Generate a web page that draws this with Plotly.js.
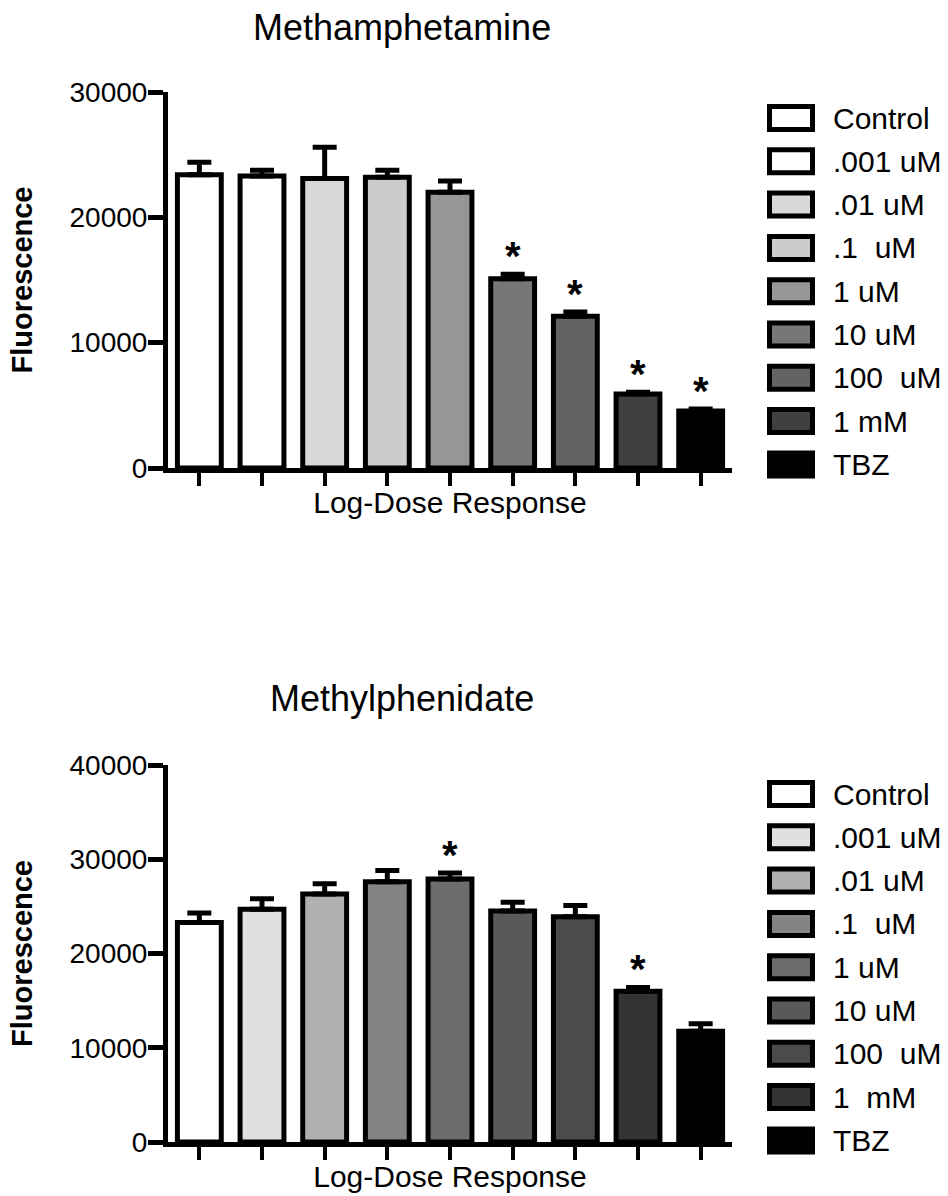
<!DOCTYPE html>
<html>
<head>
<meta charset="utf-8">
<script src="https://cdn.plot.ly/plotly-3.0.1.min.js"></script>
<style>html,body{margin:0;padding:0;background:#fff;}#chart{width:948px;height:1196px;}</style>
</head>
<body>
<div id="chart"></div>
<script>
// ---------- DATA ----------
const categories = ['Control', '.001 uM', '.01 uM', '.1  uM', '1 uM', '10 uM', '100  uM', '1 mM', 'TBZ'];
const categoriesB = ['Control', '.001 uM', '.01 uM', '.1  uM', '1 uM', '10 uM', '100  uM', '1  mM', 'TBZ'];

const methamphetamineMean = [23400, 23300, 23100, 23200, 22000, 15100, 12100, 5900, 4550];
const methamphetamineSEM  = [1000, 450, 2500, 550, 900, 350, 350, 150, 150];
const methamphetamineSig  = [false, false, false, false, false, true, true, true, true];

const methylphenidateMean = [23300, 24700, 26300, 27600, 27900, 24500, 23900, 16000, 11750];
const methylphenidateSEM  = [1000, 1100, 1100, 1200, 650, 950, 1200, 400, 800];
const methylphenidateSig  = [false, false, false, false, true, false, false, true, false];

const colorsA = ['#ffffff', '#ffffff', '#d8d8d8', '#cccccc', '#969696', '#777777', '#636363', '#404040', '#000000'];
const colorsB = ['#ffffff', '#e0e0e0', '#b0b0b0', '#838383', '#6c6c6c', '#595959', '#4b4b4b', '#333333', '#000000'];

const yTicksA = [0, 10000, 20000, 30000];
const yTicksB = [0, 10000, 20000, 30000, 40000];

// ---------- LAYOUT HELPERS ----------
const W = 948, H = 1196;
const px = v => v / W;
const py = v => 1 - v / H;
const FONT = 'Liberation Sans, Arial, Helvetica, sans-serif';
const nb = s => s.replace(/ /g, '\u00a0');

function barTrace(cats, vals, errs, cols, xa, ya) {
  return {
    type: 'bar', x: cats.map(nb), y: vals, xaxis: xa, yaxis: ya,
    marker: { color: cols, line: { color: '#000', width: 5 } },
    error_y: { type: 'data', array: errs, arrayminus: errs.map(() => 0), symmetric: false,
               color: '#000', thickness: 5, width: 12 },
    showlegend: false, hoverinfo: 'x+y'
  };
}

const data = [
  barTrace(categories, methamphetamineMean, methamphetamineSEM, colorsA, 'x', 'y'),
  barTrace(categoriesB, methylphenidateMean, methylphenidateSEM, colorsB, 'x2', 'y2')
];

function xAxis(anchor) {
  return {
    domain: [px(168), px(732)], anchor: anchor, type: 'category',
    showline: true, linewidth: 5, linecolor: '#000',
    ticks: 'outside', ticklen: 13, tickwidth: 4, tickcolor: '#000',
    showticklabels: false, showgrid: false, zeroline: false, fixedrange: true,
    title: { text: 'Log-Dose Response', font: { family: FONT, size: 30, color: '#000' }, standoff: 8 }
  };
}
function yAxis(domain, anchor, range, ticks) {
  return {
    domain: domain, anchor: anchor, range: range, tickvals: ticks, tickformat: 'd',
    showline: true, linewidth: 5, linecolor: '#000',
    ticks: 'outside', ticklen: 15, tickwidth: 5, tickcolor: '#000',
    ticklabelstandoff: -5,
    tickfont: { family: FONT, size: 28, color: '#000' },
    showgrid: false, zeroline: false, fixedrange: true,
    title: { text: '<b>Fluorescence</b>', font: { family: FONT, size: 29, color: '#000' }, standoff: 30 }
  };
}

const annotations = [];
const shapes = [];

// Titles
annotations.push({ text: 'Methamphetamine', xref: 'paper', yref: 'paper', x: px(402), y: py(28),
  xanchor: 'center', yanchor: 'middle', showarrow: false, font: { family: FONT, size: 36, color: '#000' } });
annotations.push({ text: 'Methylphenidate', xref: 'paper', yref: 'paper', x: px(402), y: py(698),
  xanchor: 'center', yanchor: 'middle', showarrow: false, font: { family: FONT, size: 36, color: '#000' } });

// Significance asterisks
function stars(cats, vals, errs, sig, xa, ya) {
  cats.forEach((c, i) => {
    if (!sig[i]) return;
    annotations.push({ text: '<b>*</b>', x: nb(c), y: vals[i] + errs[i], xref: xa, yref: ya,
      xanchor: 'center', yanchor: 'bottom', showarrow: false, yshift: -6,
      font: { family: FONT, size: 40, color: '#000' } });
  });
}
stars(categories, methamphetamineMean, methamphetamineSEM, methamphetamineSig, 'x', 'y');
stars(categoriesB, methylphenidateMean, methylphenidateSEM, methylphenidateSig, 'x2', 'y2');

// Custom legends
function legend(cats, cols, firstY) {
  cats.forEach((c, i) => {
    const cy = firstY + i * 43.3;
    shapes.push({ type: 'rect', xref: 'paper', yref: 'paper',
      x0: px(769.5), x1: px(812.5), y0: py(cy + 11.5), y1: py(cy - 11.5),
      line: { color: '#000', width: 5 }, fillcolor: cols[i] });
    annotations.push({ text: nb(c), xref: 'paper', yref: 'paper', x: px(831), y: py(cy),
      xanchor: 'left', yanchor: 'middle', showarrow: false,
      font: { family: FONT, size: 30, color: '#000' } });
  });
}
legend(categories, colorsA, 118);
legend(categoriesB, colorsB, 794);

const layout = {
  width: W, height: H,
  margin: { l: 0, r: 0, t: 0, b: 0, pad: 0 },
  paper_bgcolor: '#fff', plot_bgcolor: '#fff',
  bargap: 0.3,
  font: { family: FONT, color: '#000' },
  xaxis: xAxis('y'),
  yaxis: yAxis([py(468), py(92)], 'x', [0, 30000], yTicksA),
  xaxis2: xAxis('y2'),
  yaxis2: yAxis([py(1142), py(765)], 'x2', [0, 40000], yTicksB),
  annotations: annotations,
  shapes: shapes,
  showlegend: false
};

Plotly.newPlot('chart', data, layout, { displayModeBar: false, staticPlot: true });
</script>
</body>
</html>
